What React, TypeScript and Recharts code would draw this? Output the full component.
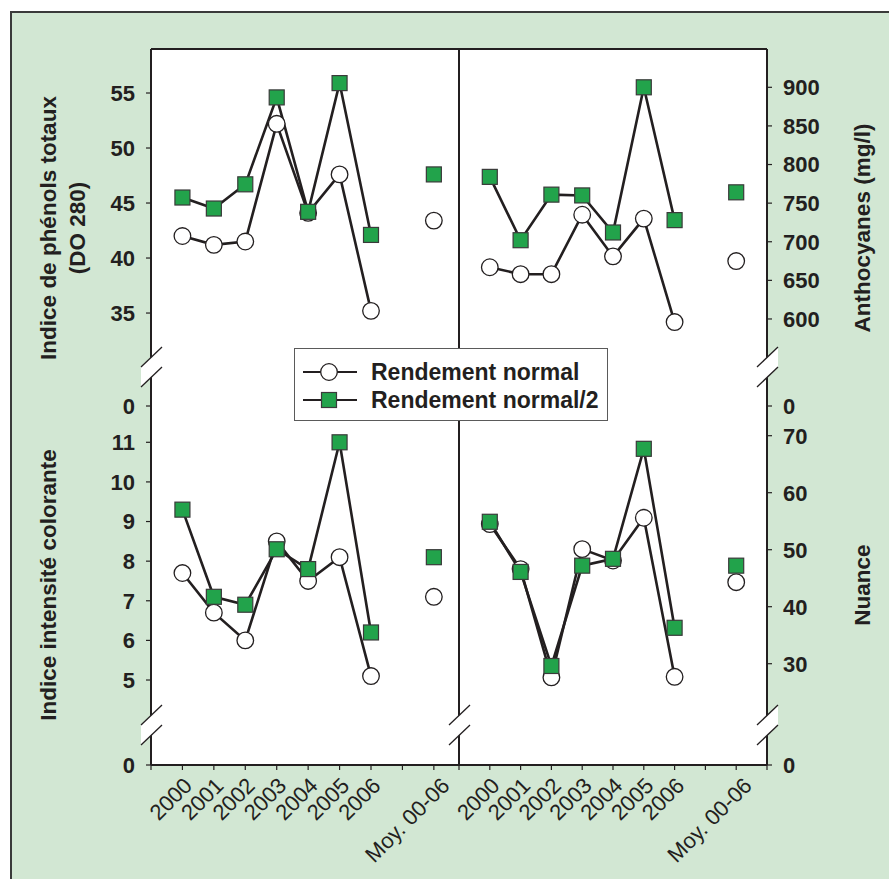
import React from 'react'
import { LineChart, Line, XAxis, YAxis } from 'recharts'

const categories = ['2000', '2001', '2002', '2003', '2004', '2005', '2006', 'Moy. 00-06']
// position of each category on the x scale (7 is left empty before the mean)
const categoryX = [0, 1, 2, 3, 4, 5, 6, 8]

const phenolsNormal = [42.0, 41.2, 41.5, 52.2, 44.1, 47.6, 35.2, 43.4]
const phenolsHalf = [45.5, 44.5, 46.7, 54.6, 44.2, 55.9, 42.1, 47.6]
const anthoNormal = [667, 658, 658, 735, 681, 730, 596, 675]
const anthoHalf = [784, 702, 761, 760, 712, 900, 728, 764]
const intensiteNormal = [7.7, 6.7, 6.0, 8.5, 7.5, 8.1, 5.1, 7.1]
const intensiteHalf = [9.3, 7.1, 6.9, 8.3, 7.8, 11.0, 6.2, 8.1]
const nuanceNormal = [54.5, 46.6, 27.6, 50.1, 48.1, 55.6, 27.7, 44.3]
const nuanceHalf = [54.9, 46.1, 29.6, 47.2, 48.4, 67.7, 36.3, 47.2]

const phenolsTicks = [35, 40, 45, 50, 55]
const anthoTicks = [600, 650, 700, 750, 800, 850, 900]
const intensiteTicks = [5, 6, 7, 8, 9, 10, 11]
const nuanceTicks = [30, 40, 50, 60, 70]

const INK = '#231f20'
const GREEN = '#22a34b'
const BG = '#d2e7d3'
const FONT = '"Liberation Sans", Arial, Helvetica, sans-serif'

type Row = { x: number; normal: number | null; half: number | null }

function buildRows(normal: number[], half: number[]): Row[] {
    const rows: Row[] = categories.map((_, i) => ({ x: categoryX[i], normal: normal[i], half: half[i] }))
    // empty slot so the mean is not joined to the yearly line
    rows.splice(7, 0, { x: 7, normal: null, half: null })
    return rows
}

const CircleDot = (props: any) => {
    const { cx, cy, index } = props
    if (!Number.isFinite(cx) || !Number.isFinite(cy)) return <g key={`c${index}`} />
    return <circle key={`c${index}`} cx={cx} cy={cy} r={8.3} fill="#fff" stroke={INK} strokeWidth={1.3} />
}

const SquareDot = (props: any) => {
    const { cx, cy, index } = props
    if (!Number.isFinite(cx) || !Number.isFinite(cy)) return <g key={`s${index}`} />
    return <rect key={`s${index}`} x={cx - 7.5} y={cy - 7.5} width={15} height={15} fill={GREEN} stroke="#3a3a3a" strokeWidth={1.2} />
}

const YearTick = (props: any) => {
    const { x, y, payload } = props
    const i = categoryX.indexOf(payload.value)
    if (i < 0) return <g />
    const label = categories[i]
    const ax = x + (label.length > 4 ? 17 : 11)
    const ay = y + 17
    return (
        <text
            x={ax}
            y={ay}
            textAnchor="end"
            transform={`rotate(-45 ${ax} ${ay})`}
            fontSize={22}
            fontFamily={FONT}
            fill={INK}
        >
            {label}
        </text>
    )
}

type PanelProps = {
    left: number
    top: number
    width: number
    height: number
    margin: { top: number; right: number; bottom: number; left: number }
    side: 'left' | 'right'
    axisWidth: number
    bottom: boolean
    xDomain: [number, number]
    xTicks: number[]
    yDomain: [number, number]
    yTicks: number[]
    data: Row[]
}

function Panel(p: PanelProps) {
    const breakValue = p.yDomain[0]
    return (
        <div style={{ position: 'absolute', left: p.left, top: p.top }}>
            <LineChart width={p.width} height={p.height} data={p.data} margin={p.margin}>
                <XAxis
                    type="number"
                    dataKey="x"
                    domain={p.xDomain}
                    ticks={p.xTicks}
                    interval={0}
                    allowDataOverflow
                    height={p.bottom ? 114 : 0}
                    mirror={!p.bottom}
                    tickSize={5}
                    tickMargin={0}
                    tick={p.bottom ? <YearTick /> : () => <g />}
                    axisLine={{ stroke: INK, strokeWidth: 2 }}
                    tickLine={{ stroke: INK, strokeWidth: 1.2 }}
                />
                <YAxis
                    orientation={p.side}
                    width={p.axisWidth}
                    domain={p.yDomain}
                    ticks={[breakValue, ...p.yTicks]}
                    interval={0}
                    allowDataOverflow
                    tickSize={5}
                    tickMargin={11}
                    tickFormatter={(v: number) => (v === breakValue ? '0' : String(v))}
                    tick={{ fontSize: 22, fontWeight: 700, fill: INK, fontFamily: FONT }}
                    axisLine={{ stroke: INK, strokeWidth: 2 }}
                    tickLine={{ stroke: INK, strokeWidth: 1.2 }}
                />
                <Line
                    dataKey="normal"
                    stroke={INK}
                    strokeWidth={2.6}
                    dot={CircleDot}
                    activeDot={false}
                    isAnimationActive={false}
                />
                <Line
                    dataKey="half"
                    stroke={INK}
                    strokeWidth={2.6}
                    dot={SquareDot}
                    activeDot={false}
                    isAnimationActive={false}
                />
            </LineChart>
        </div>
    )
}

// double slash drawn over an axis to show the break
function AxisBreak({ x, y }: { x: number; y: number }) {
    return (
        <g>
            <polygon points={`${x - 10},${y} ${x + 11},${y - 20} ${x + 11},${y} ${x - 10},${y + 20}`} fill="#fff" />
            <line x1={x - 10} y1={y} x2={x + 11} y2={y - 20} stroke={INK} strokeWidth={1.3} />
            <line x1={x - 10} y1={y + 20} x2={x + 11} y2={y} stroke={INK} strokeWidth={1.3} />
        </g>
    )
}

const leftX: [number, number] = [-1, 8.8]
const rightX: [number, number] = [-1, 9]
const leftTicks = [-1, 0, 1, 2, 3, 4, 5, 6, 7, 8]
const rightTicks = [-1, 0, 1, 2, 3, 4, 5, 6, 7, 8, 9]

export default function App() {
    return (
        <div style={{ position: 'absolute', left: 0, top: 0, width: 889, height: 879, overflow: 'hidden', background: '#fff', fontFamily: FONT }}>
            <div
                style={{
                    position: 'absolute',
                    left: 10,
                    top: 11,
                    width: 900,
                    height: 900,
                    background: BG,
                    borderTop: '2px solid #3a3a3a',
                    borderLeft: '2px solid #3a3a3a',
                }}
            />
            <div style={{ position: 'absolute', left: 151, top: 49, width: 616, height: 716, background: '#fff' }} />

            <Panel
                left={0}
                top={0}
                width={459}
                height={430}
                margin={{ top: 49, right: 0, bottom: 24, left: 0 }}
                side="left"
                axisWidth={151}
                bottom={false}
                xDomain={leftX}
                xTicks={leftTicks}
                yDomain={[26.55, 59]}
                yTicks={phenolsTicks}
                data={buildRows(phenolsNormal, phenolsHalf)}
            />
            <Panel
                left={420}
                top={0}
                width={469}
                height={430}
                margin={{ top: 49, right: 0, bottom: 24, left: 39 }}
                side="right"
                axisWidth={122}
                bottom={false}
                xDomain={rightX}
                xTicks={rightTicks}
                yDomain={[487.3, 949.6]}
                yTicks={anthoTicks}
                data={buildRows(anthoNormal, anthoHalf)}
            />
            <Panel
                left={0}
                top={406}
                width={480}
                height={473}
                margin={{ top: 0, right: 21, bottom: 0, left: 0 }}
                side="left"
                axisWidth={151}
                bottom
                xDomain={leftX}
                xTicks={leftTicks}
                yDomain={[2.855, 11.916]}
                yTicks={intensiteTicks}
                data={buildRows(intensiteNormal, intensiteHalf)}
            />
            <Panel
                left={420}
                top={406}
                width={469}
                height={473}
                margin={{ top: 0, right: 0, bottom: 0, left: 39 }}
                side="right"
                axisWidth={122}
                bottom
                xDomain={rightX}
                xTicks={rightTicks}
                yDomain={[12.23, 75.21]}
                yTicks={nuanceTicks}
                data={buildRows(nuanceNormal, nuanceHalf)}
            />

            <svg width={889} height={879} style={{ position: 'absolute', left: 0, top: 0, pointerEvents: 'none' }}>
                <line x1={151} y1={49} x2={767} y2={49} stroke={INK} strokeWidth={2} />
                <line x1={459} y1={49} x2={459} y2={765} stroke={INK} strokeWidth={2} />
                <AxisBreak x={151} y={367} />
                <AxisBreak x={767} y={367} />
                <AxisBreak x={151} y={725} />
                <AxisBreak x={459} y={725} />
                <AxisBreak x={767} y={725} />
                <g fontFamily={FONT} fontWeight={700} fontSize={22.5} fill={INK} textAnchor="middle">
                    <text transform="translate(56 228) rotate(-90)">Indice de phénols totaux</text>
                    <text transform="translate(85 228) rotate(-90)">(DO 280)</text>
                    <text transform="translate(56 585) rotate(-90)">Indice intensité colorante</text>
                    <text transform="translate(870 228) rotate(-90)">Anthocyanes (mg/l)</text>
                    <text transform="translate(870 585) rotate(-90)">Nuance</text>
                </g>
            </svg>

            <div
                style={{
                    position: 'absolute',
                    left: 294,
                    top: 348,
                    width: 314,
                    height: 73,
                    boxSizing: 'border-box',
                    background: '#fff',
                    border: '1.5px solid #5a5a5a',
                }}
            >
                <svg width={312} height={71} style={{ position: 'absolute', left: 0, top: 0 }}>
                    <line x1={8} y1={23} x2={62} y2={23} stroke={INK} strokeWidth={2.2} />
                    <circle cx={34} cy={23} r={8.3} fill="#fff" stroke={INK} strokeWidth={1.3} />
                    <line x1={8} y1={51} x2={62} y2={51} stroke={INK} strokeWidth={2.2} />
                    <rect x={26.5} y={43.5} width={15} height={15} fill={GREEN} stroke="#3a3a3a" strokeWidth={1.2} />
                    <g fontFamily={FONT} fontWeight={700} fontSize={23} fill={INK}>
                        <text x={76} y={31}>Rendement normal</text>
                        <text x={76} y={59}>Rendement normal/2</text>
                    </g>
                </svg>
            </div>
        </div>
    )
}
